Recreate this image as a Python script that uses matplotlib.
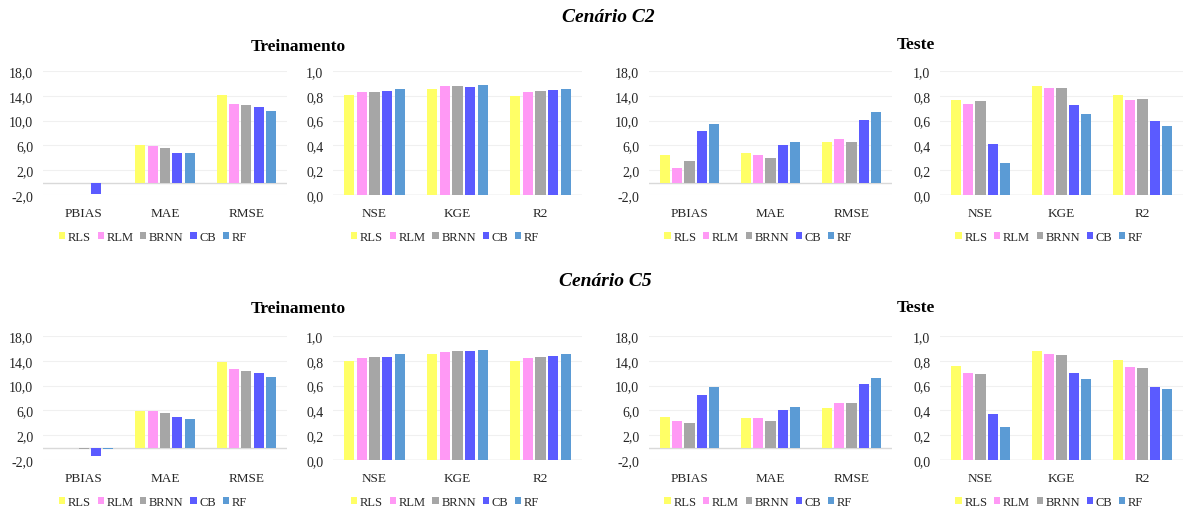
#!/usr/bin/env python3
"""
Métricas de desempenho dos modelos (cenários C2 e C5), treinamento e teste.
Saída: out.png
"""

import matplotlib
matplotlib.use("Agg")
import matplotlib.pyplot as plt

# ── Dados ────────────────────────────────────────────────────────────────────
modelos = ["RLS", "RLM", "BRNN", "CB", "RF"]
cores = ["#FFFF66", "#FF99F5", "#A6A6A6", "#5B5BFF", "#5B9BD5"]

cat_erro = ["PBIAS", "MAE", "RMSE"]
cat_ajuste = ["NSE", "KGE", "R2"]

# valores por modelo: [PBIAS, MAE, RMSE]  /  [NSE, KGE, R2]
c2_trein_erro = {
    "RLS": [-0.05, 6.08, 14.08],
    "RLM": [-0.05, 5.92, 12.70],
    "BRNN": [-0.05, 5.55, 12.53],
    "CB": [-1.85, 4.80, 12.16],
    "RF": [-0.05, 4.80, 11.52],
}
c2_trein_ajuste = {
    "RLS": [0.803, 0.852, 0.800],
    "RLM": [0.830, 0.876, 0.830],
    "BRNN": [0.830, 0.876, 0.835],
    "CB": [0.838, 0.873, 0.844],
    "RF": [0.857, 0.889, 0.857],
}
c2_teste_erro = {
    "RLS": [4.38, 4.80, 6.54],
    "RLM": [2.32, 4.43, 6.97],
    "BRNN": [3.50, 4.00, 6.54],
    "CB": [8.30, 6.05, 10.16],
    "RF": [9.46, 6.54, 11.46],
}
c2_teste_ajuste = {
    "RLS": [0.768, 0.879, 0.810],
    "RLM": [0.730, 0.865, 0.768],
    "BRNN": [0.760, 0.863, 0.774],
    "CB": [0.410, 0.725, 0.596],
    "RF": [0.260, 0.652, 0.558],
}
c5_trein_erro = {
    "RLS": [-0.05, 5.95, 13.78],
    "RLM": [-0.10, 5.95, 12.70],
    "BRNN": [-0.20, 5.52, 12.33],
    "CB": [-1.40, 4.88, 12.00],
    "RF": [-0.25, 4.66, 11.37],
}
c5_trein_ajuste = {
    "RLS": [0.800, 0.853, 0.800],
    "RLM": [0.820, 0.869, 0.820],
    "BRNN": [0.831, 0.882, 0.831],
    "CB": [0.834, 0.879, 0.836],
    "RF": [0.855, 0.887, 0.855],
}
c5_teste_erro = {
    "RLS": [5.00, 4.78, 6.45],
    "RLM": [4.25, 4.78, 7.15],
    "BRNN": [3.92, 4.35, 7.26],
    "CB": [8.50, 6.13, 10.32],
    "RF": [9.78, 6.60, 11.18],
}
c5_teste_ajuste = {
    "RLS": [0.761, 0.877, 0.810],
    "RLM": [0.705, 0.853, 0.753],
    "BRNN": [0.694, 0.847, 0.743],
    "CB": [0.373, 0.700, 0.587],
    "RF": [0.268, 0.651, 0.574],
}

ticks_erro = [-2, 2, 6, 10, 14, 18]
ticks_ajuste = [0.0, 0.2, 0.4, 0.6, 0.8, 1.0]

W, H = 1186, 510
FONTE = ["Liberation Serif", "DejaVu Serif"]
COR_TEXTO = "#262626"


def caixa(x0, x1, ytop, ybot):
    """Converte pixels da imagem em retângulo de figura."""
    return [x0 / W, 1 - ybot / H, (x1 - x0) / W, (ybot - ytop) / H]


def painel(fig, rect, cats, dados, ticks):
    ax = fig.add_axes(rect)
    passo, larg = 0.152, 0.125
    for i, m in enumerate(modelos):
        xs = [k + (i - 2) * passo for k in range(len(cats))]
        ax.bar(xs, dados[m], width=larg, color=cores[i], zorder=3, label=m)

    ax.set_xlim(-0.5, len(cats) - 0.5)
    ax.set_ylim(ticks[0], ticks[-1])
    ax.set_yticks(ticks)
    ax.set_yticklabels([f"{t:.1f}".replace(".", ",") for t in ticks],
                       family=FONTE, fontsize=10)
    ax.set_xticks(range(len(cats)))
    ax.set_xticklabels(cats, family=FONTE, fontsize=9.5)
    ax.tick_params(length=0, axis="y", pad=7)
    ax.tick_params(length=0, axis="x", pad=9)
    ax.yaxis.grid(True, color="#F0F0F0", lw=0.8, zorder=0)
    for s in ax.spines.values():
        s.set_visible(False)
    # eixo das categorias (linha do zero)
    ax.axhline(0, color="#D9D9D9", lw=1.0, zorder=2)

    # legenda centrada abaixo do painel
    leg = ax.legend(loc="center", bbox_to_anchor=(0.45, -0.335),
                    ncol=5, frameon=False, handlelength=0.5, handleheight=0.5,
                    handletextpad=0.2, columnspacing=0.55, borderpad=0.1,
                    prop={"family": FONTE, "size": 9})
    for t in leg.get_texts():
        t.set_color(COR_TEXTO)
    for lab in ax.get_xticklabels() + ax.get_yticklabels():
        lab.set_color(COR_TEXTO)
    return ax


fig = plt.figure(figsize=(W / 100, H / 100), dpi=100)
fig.patch.set_facecolor("white")

colunas = [(43, 287), (333, 582), (649, 892), (940, 1183)]
linhas = [(72, 196), (337, 461)]

cenarios = [
    (c2_trein_erro, c2_trein_ajuste, c2_teste_erro, c2_teste_ajuste),
    (c5_trein_erro, c5_trein_ajuste, c5_teste_erro, c5_teste_ajuste),
]

for r, (ytop, ybot) in enumerate(linhas):
    conj = cenarios[r]
    for c, (x0, x1) in enumerate(colunas):
        erro = c % 2 == 0
        painel(fig, caixa(x0, x1, ytop, ybot),
               cat_erro if erro else cat_ajuste, conj[c],
               ticks_erro if erro else ticks_ajuste)

# ── Títulos ─────────────────────────────────────────────────────────────────
titulos = [
    ("Cenário C2", 608, 17, 14, "italic"),
    ("Treinamento", 298, 47, 12.5, "normal"),
    ("Teste", 916, 45, 12.5, "normal"),
    ("Cenário C5", 605, 282, 14, "italic"),
    ("Treinamento", 298, 309, 12.5, "normal"),
    ("Teste", 916, 308, 12.5, "normal"),
]
for txt, x, y, fs, estilo in titulos:
    fig.text(x / W, 1 - y / H, txt, ha="center", va="center",
             family=FONTE, fontsize=fs, fontweight="bold", style=estilo,
             color="#000000")

fig.savefig("out.png", dpi=100, facecolor="white")
